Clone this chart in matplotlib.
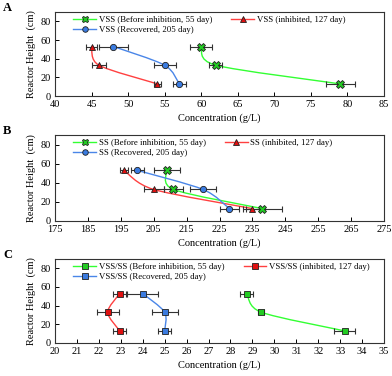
import matplotlib
matplotlib.use('Agg')
import matplotlib.pyplot as plt
from matplotlib.path import Path
from matplotlib.patches import PathPatch
from matplotlib.lines import Line2D
import numpy as np

plt.rcParams['font.family'] = ['Liberation Serif', 'DejaVu Serif']

heights = [53, 33, 13]

# panel A: VSS (g/L)
vss_before = [60, 62, 79]
vss_before_err = [1.5, 0.9, 2.0]
vss_inhib = [45, 46, 54]
vss_inhib_err = [0.8, 1.0, 0.5]
vss_recov = [48, 55, 57]
vss_recov_err = [2.0, 1.5, 0.9]

# panel B: SS (g/L)
ss_before = [209, 211, 238]
ss_before_err = [4, 3, 6]
ss_inhib = [196, 205, 235]
ss_inhib_err = [1.2, 3, 2]
ss_recov = [200, 220, 228]
ss_recov_err = [2, 4, 3]

# panel C: VSS/SS
ratio_before = [28.75, 29.4, 33.2]
ratio_before_err = [0.3, 0.15, 0.5]
ratio_inhib = [22.95, 22.4, 22.95]
ratio_inhib_err = [0.3, 0.5, 0.3]
ratio_recov = [24.0, 25.0, 25.0]
ratio_recov_err = [0.7, 0.6, 0.3]

green = '#33ff33'
red = '#ff4040'
blue = '#4a86e8'
green_m = '#22cc22'
red_m = '#e01010'
blue_m = '#3a7be0'


def smooth_line(ax, x, y, color, k=7.0):
    """Excel-like smoothed line (cardinal bezier)"""
    pts = np.column_stack([x, y]).astype(float)
    ext = np.vstack([pts[0], pts, pts[-1]])
    verts = [tuple(pts[0])]
    codes = [Path.MOVETO]
    for i in range(len(pts) - 1):
        p0, p1, p2, p3 = ext[i], ext[i + 1], ext[i + 2], ext[i + 3]
        c1 = p1 + (p2 - p0) / k
        c2 = p2 - (p3 - p1) / k
        verts += [tuple(c1), tuple(c2), tuple(p2)]
        codes += [Path.CURVE4] * 3
    ax.add_patch(PathPatch(Path(verts, codes), fill=False, edgecolor=color, lw=1.0, zorder=2))


def series(ax, x, err, color, mcolor, marker, ms, label):
    smooth_line(ax, x, heights, color)
    ax.errorbar(x, heights, xerr=err, fmt='none', ecolor='#333333', elinewidth=0.8,
                capsize=2.2, capthick=0.8, zorder=3)
    ax.plot(x, heights, ls='none', marker=marker, ms=ms, mfc=mcolor, mec='#202020',
            mew=0.6, zorder=4)
    return Line2D([], [], color=color, lw=1.0, marker=marker, ms=ms - 0.5, mfc=mcolor,
                  mec='#202020', mew=0.6, label=label)


fig = plt.figure(figsize=(3.92, 3.76), dpi=100)
left, width = 55 / 392, 329 / 392
boxes = [(12, 96), (135, 221), (259, 343)]
axes = []
for top, bot in boxes:
    axes.append(fig.add_axes([left, 1 - bot / 376, width, (bot - top) / 376]))

for ax in axes:
    ax.set_ylim(0, 90)
    ax.set_yticks([0, 20, 40, 60, 80])
    ax.tick_params(direction='in', length=3, width=0.7, labelsize=7.5, pad=3,
                   top=False, right=False)
    for s in ax.spines.values():
        s.set_linewidth(0.8)
        s.set_color('#333333')
    ax.set_ylabel('Reactor Height  (cm)', fontsize=7.5, labelpad=3)
    ax.set_xlabel('Concentration (g/L)', fontsize=7.5, labelpad=3)

# A
ax = axes[0]
h1 = series(ax, vss_before, vss_before_err, green, green_m, 'X', 5.5, 'VSS (Before inhibition, 55 day)')
h2 = series(ax, vss_inhib, vss_inhib_err, red, red_m, '^', 4.5, 'VSS (inhibited, 127 day)')
h3 = series(ax, vss_recov, vss_recov_err, blue, blue_m, 'o', 4.5, 'VSS (Recovered, 205 day)')
ax.set_xlim(40, 85)
ax.set_xticks(np.arange(40, 86, 5))
legA = [h1, h3, h2]

# B
ax = axes[1]
h1 = series(ax, ss_before, ss_before_err, green, green_m, 'X', 5.5, 'SS (Before inhibition, 55 day)')
h2 = series(ax, ss_inhib, ss_inhib_err, red, red_m, '^', 4.5, 'SS (inhibited, 127 day)')
h3 = series(ax, ss_recov, ss_recov_err, blue, blue_m, 'o', 4.5, 'SS (Recovered, 205 day)')
ax.set_xlim(175, 275)
ax.set_xticks(np.arange(175, 276, 10))
legB = [h1, h3, h2]

# C
ax = axes[2]
h1 = series(ax, ratio_before, ratio_before_err, green, green_m, 's', 4.5, 'VSS/SS (Before inhibition, 55 day)')
h2 = series(ax, ratio_inhib, ratio_inhib_err, red, red_m, 's', 4.5, 'VSS/SS (inhibited, 127 day)')
h3 = series(ax, ratio_recov, ratio_recov_err, blue, blue_m, 's', 4.5, 'VSS/SS (Recovered, 205 day)')
ax.set_xlim(20, 35)
ax.set_xticks(np.arange(20, 36, 1))
legC = [h1, h3, h2]

for ax, hs in zip(axes, [legA, legB, legC]):
    ax.legend(handles=hs, ncol=2, loc='upper left', bbox_to_anchor=(0.04, 1.02),
              frameon=False, fontsize=6.3, handlelength=2.6, handletextpad=0.3,
              columnspacing=2.2, labelspacing=0.25, borderaxespad=0.2)

for lab, top in zip(['A', 'B', 'C'], [8, 131, 255]):
    fig.text(3 / 392, 1 - top / 376, lab, fontsize=9, fontweight='bold', va='center', ha='left')

fig.savefig('out.png', dpi=100)
